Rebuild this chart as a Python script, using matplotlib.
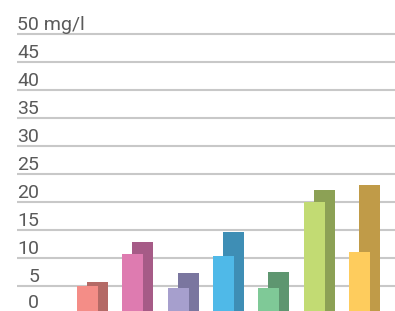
import matplotlib
matplotlib.use("Agg")
import matplotlib.pyplot as plt
from matplotlib.transforms import blended_transform_factory

# Data
groups = ["A", "B", "C", "D", "E", "F", "G"]
front_values = [4.9, 10.6, 4.6, 10.3, 4.6, 19.9, 11.0]
back_values = [5.7, 12.8, 7.3, 14.6, 7.4, 22.1, 23.0]
front_colors = ["#F48D87", "#DE7BB0", "#A69FCD", "#4FB9E8", "#7FC997", "#C2DB73", "#FECC5D"]
back_colors = ["#B46A66", "#A65B87", "#7A769F", "#3E8EB5", "#5E9670", "#8CA155", "#C09B48"]
tick_values = [0, 5, 10, 15, 20, 25, 30, 35, 40, 45]
tick_labels = ["0", "5", "10", "15", "20", "25", "30", "35", "40", "45"]
top_value = 50
top_label = "50 mg/l"
grid_values = [5, 10, 15, 20, 25, 30, 35, 40, 45, 50]

W, H = 395, 311
fig = plt.figure(figsize=(W / 100, H / 100), dpi=100)
ax = fig.add_axes([0, 0, 1, 1])
ax.set_xlim(-1.93, 6.78)
ax.set_ylim(0.48, 56.0)
ax.axis("off")

gx0 = 17 / W
ax.hlines(grid_values, xmin=-1.93 + gx0 * (6.78 + 1.93), xmax=6.78,
          colors="#c8c8c8", linewidth=1.5, zorder=1)

bw = 0.463
off = 0.22
xs = list(range(len(groups)))
ax.bar([x + off for x in xs], back_values, width=bw, color=back_colors, zorder=2, linewidth=0)
ax.bar(xs, front_values, width=bw, color=front_colors, zorder=3, linewidth=0)

tr = blended_transform_factory(ax.transAxes, ax.transData)
xr = 39 / W
for v, lab in zip(tick_values, tick_labels):
    ax.text(xr, max(v + 0.57, 0.95), lab, transform=tr, ha="right", va="baseline",
            fontsize=14, color="#5a5a5a", family="Roboto")
ax.text(gx0, top_value + 0.57, top_label, transform=tr, ha="left", va="baseline",
        fontsize=14, color="#5a5a5a", family="Roboto")

fig.savefig("out.png", dpi=100)
